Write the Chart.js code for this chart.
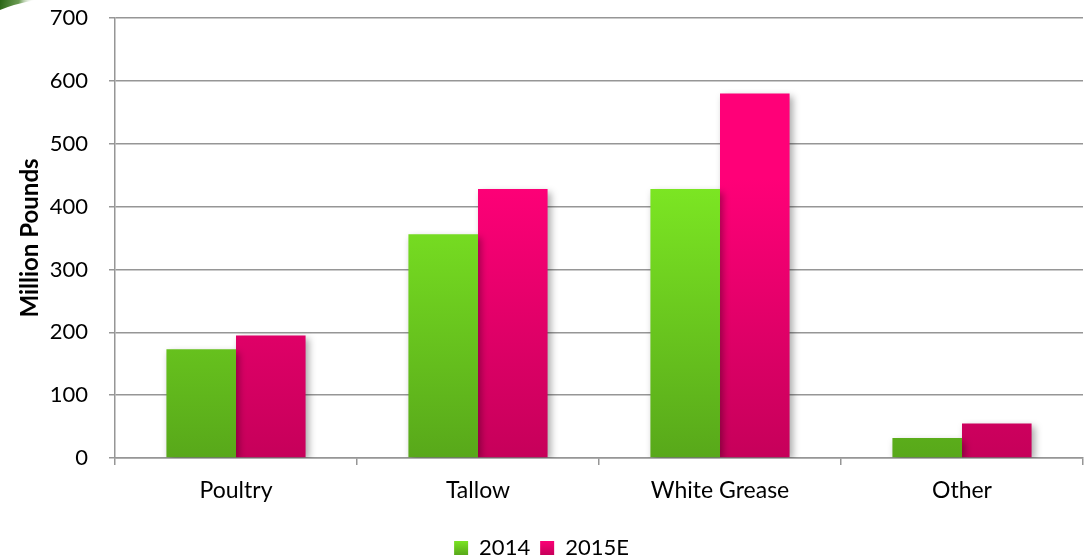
<!DOCTYPE html>
<html>
<head>
<meta charset="utf-8">
<script src="https://cdn.jsdelivr.net/npm/chart.js@4"></script>
<style>
  html, body { margin: 0; padding: 0; background: #fff; }
  #wrap { width: 1089px; height: 558px; position: relative; }
</style>
</head>
<body>
<div id="wrap"><canvas id="c" width="1089" height="558"></canvas></div>
<script>
// Rendered fat production by source
const categories = ['Poultry', 'Tallow', 'White Grease', 'Other'];
const seriesNames = ['2014', '2015E'];
const values2014 = [173, 356, 428, 32];
const values2015E = [195, 428, 580, 55];
const yTicks = [0, 100, 200, 300, 400, 500, 600, 700];

const FONT = 'Lato, "Open Sans", sans-serif';
const GRID = '#969696';

function vGradient(ctx, top, bottom, y0, y1) {
  const g = ctx.createLinearGradient(0, y0, 0, y1);
  g.addColorStop(0, top);
  g.addColorStop(1, bottom);
  return g;
}

function greenFill(c) {
  const { chart } = c;
  if (!chart.chartArea) return '#6fcf1d';
  return vGradient(chart.ctx, '#7de823', '#58a81a', chart.chartArea.top + 160, chart.chartArea.bottom);
}
function pinkFill(c) {
  const { chart } = c;
  if (!chart.chartArea) return '#ee006b';
  return vGradient(chart.ctx, '#ff0078', '#c6005a', chart.chartArea.top + 160, chart.chartArea.bottom);
}

// soft drop shadow behind the bars
const barShadow = {
  id: 'barShadow',
  beforeDatasetsDraw(chart) {
    const ctx = chart.ctx;
    ctx.save();
    ctx.shadowColor = 'rgba(0,0,0,0.33)';
    ctx.shadowBlur = 7;
    ctx.shadowOffsetX = 3;
    ctx.shadowOffsetY = 3;
  },
  afterDatasetsDraw(chart) {
    chart.ctx.restore();
  }
};

// green swoosh in the top-left corner
const cornerSwoosh = {
  id: 'cornerSwoosh',
  beforeDraw(chart) {
    const ctx = chart.ctx;
    ctx.save();
    const g = ctx.createLinearGradient(0, 0, 34, 6);
    g.addColorStop(0, 'rgba(40,100,20,1)');
    g.addColorStop(0.55, 'rgba(70,130,40,0.8)');
    g.addColorStop(1, 'rgba(255,255,255,0)');
    ctx.fillStyle = g;
    ctx.beginPath();
    ctx.moveTo(0, 0);
    ctx.lineTo(36, 0);
    ctx.quadraticCurveTo(14, 4, 0, 10);
    ctx.closePath();
    ctx.fill();
    ctx.restore();
  }
};

new Chart(document.getElementById('c'), {
  type: 'bar',
  data: {
    labels: categories,
    datasets: [
      { label: seriesNames[0], data: values2014, backgroundColor: greenFill },
      { label: seriesNames[1], data: values2015E, backgroundColor: pinkFill }
    ]
  },
  options: {
    responsive: false,
    animation: false,
    devicePixelRatio: 1,
    layout: { padding: { top: 18, right: 6, left: 0, bottom: -11 } },
    datasets: {
      bar: { categoryPercentage: 0.575, barPercentage: 1.0, borderWidth: 0 }
    },
    plugins: {
      legend: {
        position: 'bottom',
        labels: {
          font: { family: FONT, size: 22 },
          color: '#000',
          boxWidth: 14,
          boxHeight: 14,
          padding: 10,
          generateLabels(chart) {
            const ctx = chart.ctx;
            return chart.data.datasets.map((ds, i) => ({
              text: ds.label,
              fillStyle: i === 0
                ? vGradient(ctx, '#7de823', '#58a81a', 540, 555)
                : vGradient(ctx, '#ff0078', '#c6005a', 540, 555),
              strokeStyle: 'rgba(0,0,0,0)',
              lineWidth: 0,
              hidden: false,
              datasetIndex: i
            }));
          }
        }
      },
      tooltip: { enabled: false }
    },
    scales: {
      x: {
        offset: true,
        grid: {
          offset: true,
          drawOnChartArea: false,
          drawTicks: true,
          tickLength: 7,
          color: GRID,
          lineWidth: 1.5
        },
        border: { color: GRID, width: 1.5 },
        ticks: {
          font: { family: FONT, size: 23 },
          color: '#000',
          padding: 12
        },
        afterFit(scale) { scale.height = 69; }
      },
      y: {
        min: 0,
        max: 700,
        afterBuildTicks(scale) { scale.ticks = yTicks.map(v => ({ value: v })); },
        grid: {
          color: GRID,
          lineWidth: 1.5,
          tickLength: 6
        },
        border: { color: GRID, width: 1.5 },
        ticks: {
          font: { family: FONT, size: 22 },
          color: '#000',
          padding: 21
        },
        title: {
          display: true,
          text: 'Million Pounds',
          font: { family: FONT, size: 24, weight: 'bold' },
          color: '#000',
          padding: { top: 16, bottom: 0 }
        },
        afterFit(scale) {
          scale.width = 115;
          scale.paddingTop = 0;
          scale.paddingBottom = 0;
        }
      }
    }
  },
  plugins: [cornerSwoosh, barShadow]
});
</script>
</body>
</html>
